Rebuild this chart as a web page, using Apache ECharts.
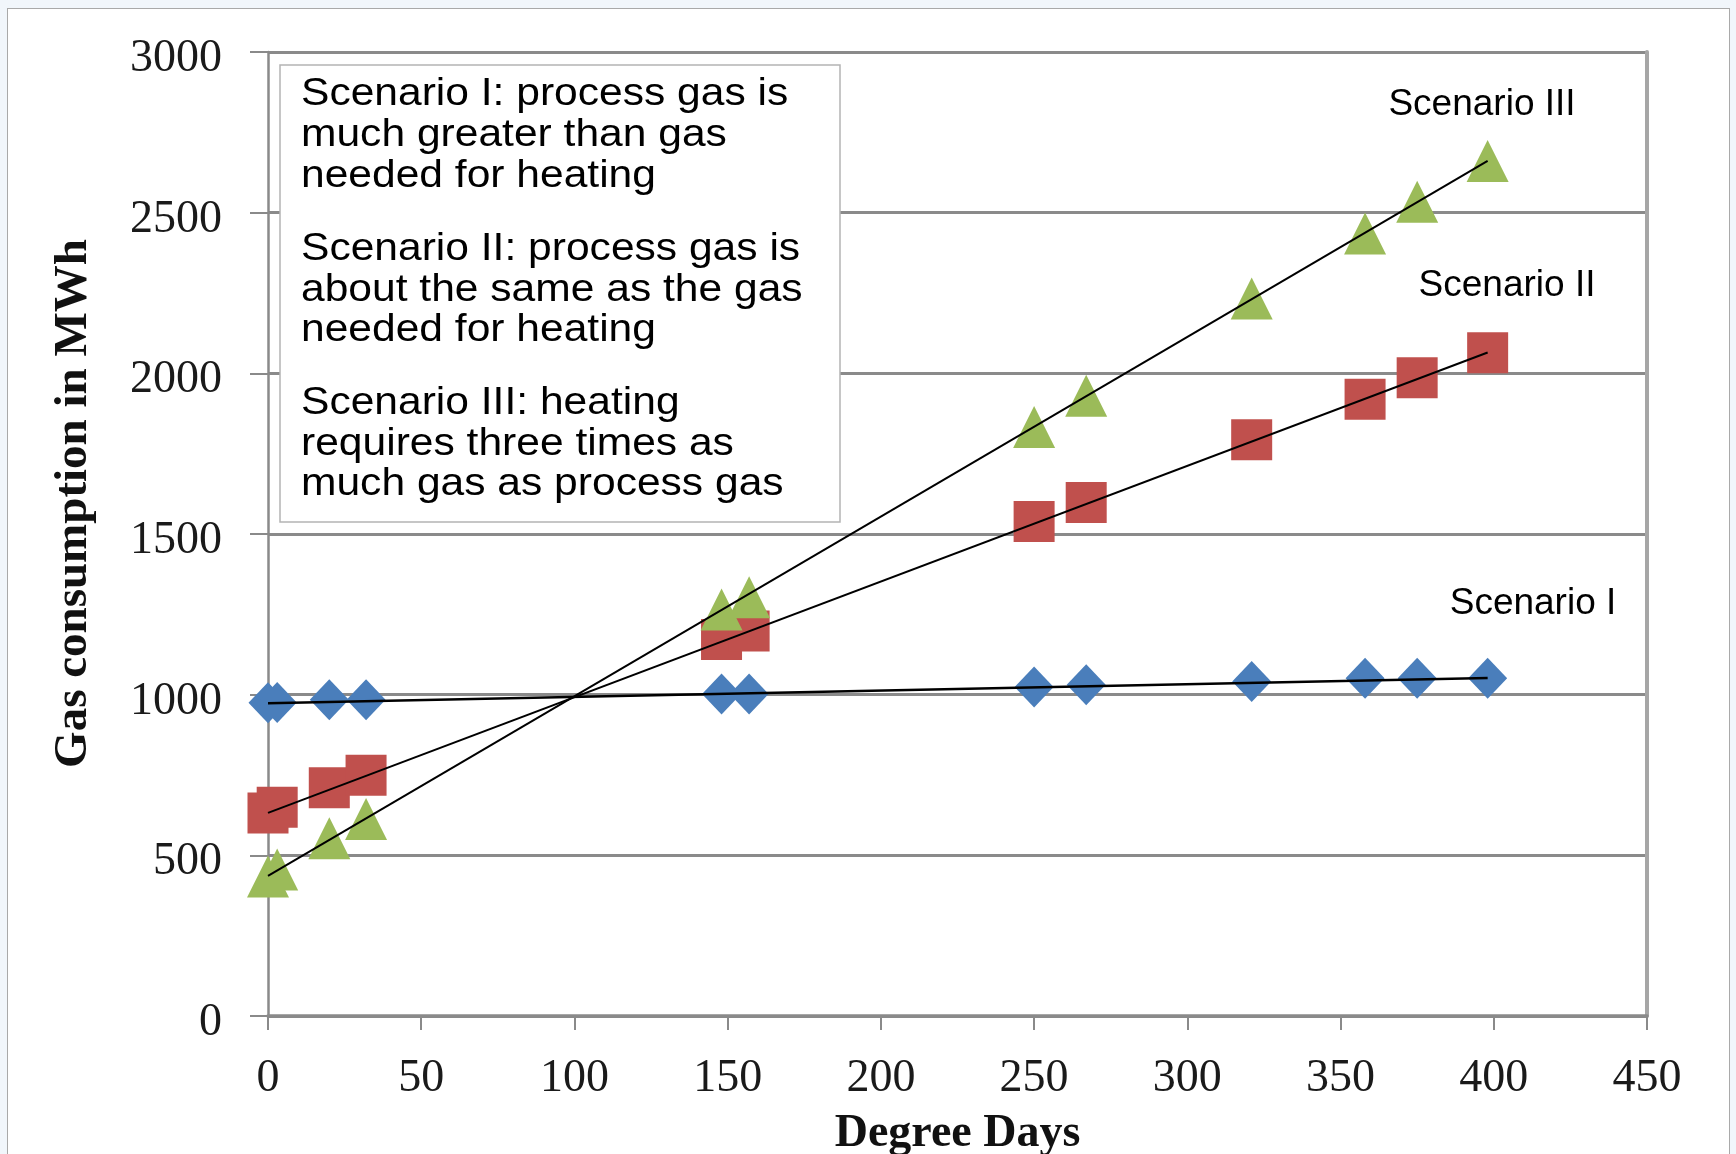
<!DOCTYPE html>
<html>
<head>
<meta charset="utf-8">
<script src="https://cdn.jsdelivr.net/npm/echarts@6/dist/echarts.min.js"></script>
<style>
  html, body { margin: 0; padding: 0; width: 1736px; height: 1154px; overflow: hidden; background: #f1f6fb; }
  #frame { position: absolute; left: 7px; top: 8px; width: 1723px; height: 1200px; background: #ffffff; border: 1.5px solid #a9a9a9; box-sizing: border-box; }
  #chart { position: absolute; left: 0; top: 0; width: 1736px; height: 1154px; }
</style>
</head>
<body>
<div id="frame"></div>
<div id="chart"></div>
<script>
// ---- data ----
const degreeDays  = [0, 3, 20, 32, 148, 157, 250, 267, 321, 358, 375, 398];
const scenarioI   = [975, 976, 984, 984, 1002, 1002, 1024, 1031, 1041, 1051, 1051, 1051];
const scenarioII  = [632, 650, 710, 749, 1172, 1198, 1539, 1598, 1793, 1919, 1986, 2064];
const scenarioIII = [434, 456, 553, 613, 1265, 1303, 1833, 1930, 2233, 2435, 2534, 2661];

const trendX   = [0, 398];
const trendI   = [973, 1052];
const trendII  = [632, 2065];
const trendIII = [436, 2661];

const xTicks = [0, 50, 100, 150, 200, 250, 300, 350, 400, 450];
const yTicks = [0, 500, 1000, 1500, 2000, 2500, 3000];

const boxParagraphs = [
  ['Scenario I: process gas is', 'much greater than gas', 'needed for heating'],
  ['Scenario II: process gas is', 'about the same as the gas', 'needed for heating'],
  ['Scenario III: heating', 'requires three times as', 'much gas as process gas']
];
const seriesLabels = ['Scenario I', 'Scenario II', 'Scenario III'];

// ---- build ----
function pairs(xs, ys) { return xs.map((x, i) => [x, ys[i]]); }

const chart = echarts.init(document.getElementById('chart'), null, { renderer: 'canvas' });

const gridL = 268, gridT = 52, gridR = 1647, gridB = 1016;

const graphics = [];
// explanatory text box
graphics.push({
  type: 'rect', z: 20,
  shape: { x: 280, y: 65, width: 560, height: 457 },
  style: { fill: '#ffffff', stroke: '#b4b4b4', lineWidth: 1.5 }
});
const lineYs = [[95, 135.7, 176.3], [249.7, 290.3, 331], [403.6, 444.3, 485]];
boxParagraphs.forEach((para, p) => {
  para.forEach((ln, i) => {
    graphics.push({
      type: 'text', z: 21, x: 301, y: lineYs[p][i], scaleX: 1.12,
      style: { text: ln, fill: '#000000', font: '38px "Liberation Sans", Arial, sans-serif',
               textAlign: 'left', textVerticalAlign: 'middle' }
    });
  });
});
// scenario labels
const labelPos = [[1533, 604], [1507, 286], [1482, 104.5]];
seriesLabels.forEach((t, i) => {
  graphics.push({
    type: 'text', z: 21, x: labelPos[i][0], y: labelPos[i][1],
    style: { text: t, fill: '#000000', font: '37px "Liberation Sans", Arial, sans-serif',
             textAlign: 'center', textVerticalAlign: 'middle' }
  });
});

const serifFont = '"Liberation Serif", "Times New Roman", serif';

const option = {
  backgroundColor: 'transparent',
  animation: false,
  grid: { left: gridL, top: gridT, width: gridR - gridL, height: gridB - gridT,
          containLabel: false, outerBoundsMode: 'none' },
  xAxis: {
    type: 'value', min: xTicks[0], max: xTicks[xTicks.length - 1], interval: xTicks[1] - xTicks[0],
    name: 'Degree Days', nameLocation: 'middle', nameGap: 95,
    nameTextStyle: { fontFamily: serifFont, fontWeight: 'bold', fontSize: 46, color: '#111' },
    axisLine: { show: true, lineStyle: { color: '#8a8a8a', width: 3.5 } },
    axisTick: { show: true, inside: false, length: 14, lineStyle: { color: '#8a8a8a', width: 2 } },
    axisLabel: { fontFamily: serifFont, fontSize: 46, color: '#1a1a1a', margin: 40,
                 formatter: v => String(v) },
    splitLine: { show: false }
  },
  yAxis: [{
    type: 'value', min: yTicks[0], max: yTicks[yTicks.length - 1], interval: yTicks[1] - yTicks[0],
    name: 'Gas consumption in MWh', nameLocation: 'middle', nameGap: 171,
    nameTextStyle: { fontFamily: serifFont, fontWeight: 'bold', fontSize: 47, color: '#111',
                     padding: [0, 0, 0, 61] },
    axisLine: { show: true, lineStyle: { color: '#8a8a8a', width: 2.5 } },
    axisTick: { show: true, inside: false, length: 18, lineStyle: { color: '#8a8a8a', width: 2 } },
    axisLabel: { fontFamily: serifFont, fontSize: 46, color: '#1a1a1a', margin: 46,
                 verticalAlign: 'top', lineHeight: 14, formatter: v => String(v) },
    splitLine: { show: true, lineStyle: { color: '#8a8a8a', width: 3 } }
  }, {
    type: 'value', position: 'right', min: yTicks[0], max: yTicks[yTicks.length - 1],
    interval: yTicks[1] - yTicks[0],
    axisLine: { show: true, lineStyle: { color: '#a6a6a6', width: 4 } },
    axisTick: { show: false }, axisLabel: { show: false }, splitLine: { show: false }
  }],
  graphic: graphics,
  series: [
    { name: 'Scenario I', type: 'scatter', z: 3, symbol: 'diamond', symbolSize: [39, 41],
      itemStyle: { color: '#4a7ebb', opacity: 1 }, data: pairs(degreeDays, scenarioI) },
    { name: 'Scenario II', type: 'scatter', z: 3, symbol: 'rect', symbolSize: 41,
      itemStyle: { color: '#c0504d', opacity: 1 }, data: pairs(degreeDays, scenarioII) },
    { name: 'Scenario III', type: 'scatter', z: 3, symbol: 'triangle', symbolSize: 42,
      itemStyle: { color: '#9bbb59', opacity: 1 }, data: pairs(degreeDays, scenarioIII) },
    { name: 'Trend I', type: 'line', z: 5, symbol: 'none', silent: true,
      lineStyle: { color: '#000', width: 2.5 }, data: pairs(trendX, trendI) },
    { name: 'Trend II', type: 'line', z: 5, symbol: 'none', silent: true,
      lineStyle: { color: '#000', width: 2 }, data: pairs(trendX, trendII) },
    { name: 'Trend III', type: 'line', z: 5, symbol: 'none', silent: true,
      lineStyle: { color: '#000', width: 2 }, data: pairs(trendX, trendIII) }
  ]
};
chart.setOption(option);
</script>
</body>
</html>
